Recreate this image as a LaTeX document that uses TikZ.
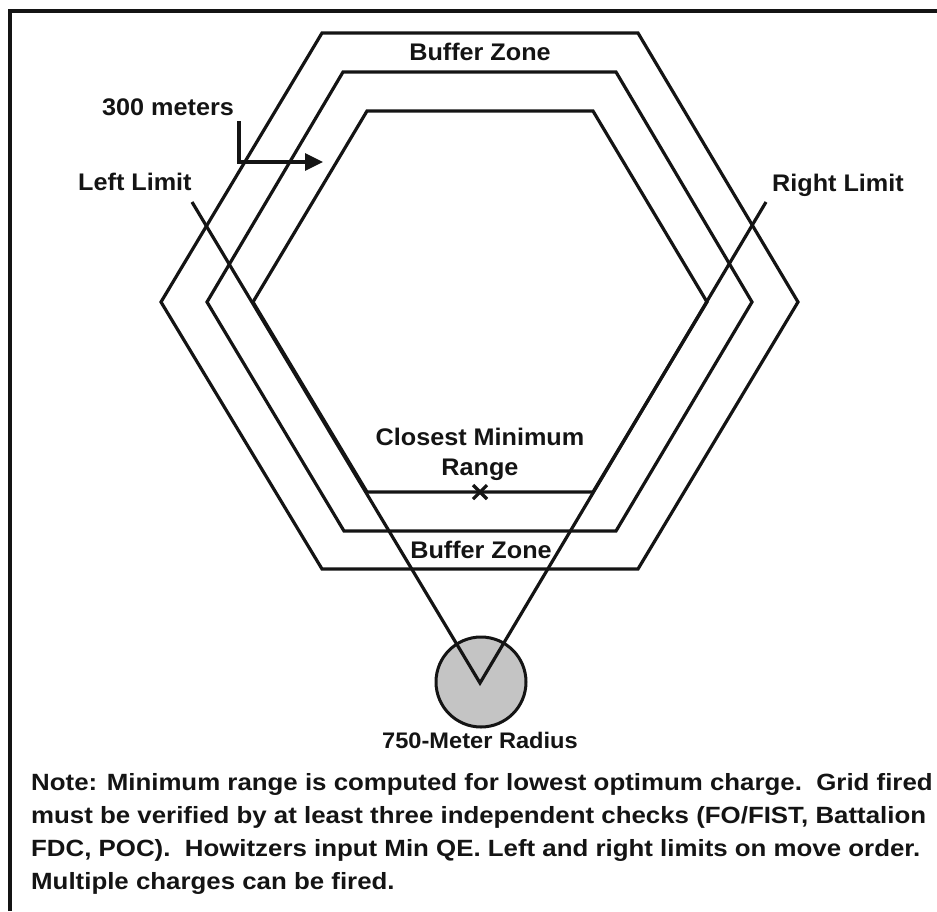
\documentclass[tikz,border=0pt]{standalone}
\usepackage{fontspec}
\setmainfont[FakeStretch=1.05]{Liberation Sans}
\newfontfamily\notefont[FakeStretch=1.1]{Liberation Sans}
\newfontfamily\radiusfont[FakeStretch=1.05]{Liberation Sans}
\usetikzlibrary{arrows.meta}
\definecolor{discgray}{HTML}{C4C4C4}
\definecolor{ink}{HTML}{141414}
\tikzset{
  zone/.style={line width=3.2pt, line join=miter, draw=ink},
  limitline/.style={line width=3.2pt, draw=ink},
  lbl/.style={inner sep=0pt, text=ink, font=\bfseries\fontsize{24}{28}\selectfont},
  notetext/.style={inner sep=0pt, anchor=base west, text=ink, font=\notefont\bfseries\fontsize{23.5}{28}\selectfont},
}
\begin{document}
\begin{tikzpicture}[x=1pt,y=-1pt]
\useasboundingbox (0,0) rectangle (937,911);

% frame (left and top edges)
\draw[line width=3.4pt, ink] (10,911) -- (10,11) -- (937,11);

% outer and middle zone boundaries
\draw[zone] (322,33) -- (638,33) -- (798,302) -- (638,569) -- (322,569) -- (161,302) -- cycle;
\draw[zone] (343,72) -- (616,72) -- (752,302) -- (616,531) -- (344,531) -- (207,302) -- cycle;
% inner area, closed by the minimum range line
\draw[zone] (367,492) -- (253,302) -- (367,111) -- (593,111) -- (707,302) -- (593,492) -- cycle;

% firing position
\coordinate (gun) at (480,683);
\node[circle, draw=ink, line width=3pt, fill=discgray, minimum size=90pt, inner sep=0pt] (disc) at (481,682) {};

% left and right limits
\coordinate (ll) at (192,202);
\coordinate (rl) at (766,202);
\draw[limitline, line join=miter] (ll) -- (gun) -- (rl);

% closest minimum range mark
\coordinate (cmr) at (480,492);
\draw[line width=3.2pt, ink] ([shift={(-7,-7)}]cmr) -- ([shift={(7,7)}]cmr)
                        ([shift={(-7,7)}]cmr) -- ([shift={(7,-7)}]cmr);

% labels
\node[lbl, anchor=base] (bztop) at (480,60) {Buffer Zone};
\node[lbl, anchor=base west] (m300) at (102,115) {300 meters};
\node[lbl, anchor=base west] (left) at (78,190) {Left Limit};
\node[lbl, anchor=base west] (right) at (772,191) {Right Limit};
\node[lbl, anchor=base] (closest) at (480,445) {Closest Minimum};
\node[lbl, anchor=base] (range) at (480,475) {Range};
\node[lbl, anchor=base] (bzbot) at (481,558) {Buffer Zone};
\node[inner sep=0pt, anchor=base, text=ink, font=\radiusfont\bfseries\fontsize{22.5}{27}\selectfont] (radius) at (480,748) {750-Meter Radius};

% 300 meters pointer
\coordinate (ptop) at (239,121);
\coordinate (pbend) at (239,162);
\coordinate (ptip) at (323,162);
\draw[line width=3.2pt, ink, -{Triangle[length=18pt,width=17pt]}] (ptop) -- (pbend) -- (ptip);

% note
\node[notetext] (note1) at (31,790) {Note: Minimum range is computed for lowest optimum charge.\ \ Grid fired};
\node[notetext] (note2) at (31,823) {must be verified by at least three independent checks (FO/FIST, Battalion};
\node[notetext] (note3) at (31,856) {FDC, POC).\ \ Howitzers input Min QE. Left and right limits on move order.};
\node[notetext] (note4) at (31,889) {Multiple charges can be fired.};
\end{tikzpicture}
\end{document}
